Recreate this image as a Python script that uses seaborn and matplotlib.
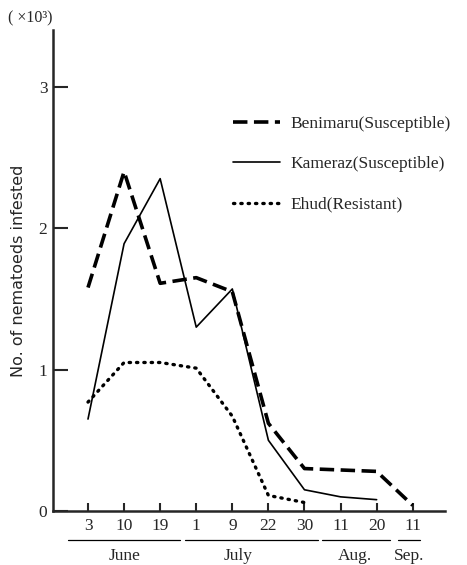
import matplotlib
matplotlib.use("Agg")
import matplotlib.pyplot as plt
import matplotlib.transforms as mtransforms
import pandas as pd
import seaborn as sns

# sampling dates (June 3 .. Sep 11)
day_labels = ["3", "10", "19", "1", "9", "22", "30", "11", "20", "11"]
months = ["June", "July", "Aug.", "Sep."]

# nematodes infested (x10^3)
benimaru = [1.58, 2.40, 1.61, 1.65, 1.55, 0.62, 0.30, 0.29, 0.28, 0.04]
kameraz = [0.65, 1.89, 2.35, 1.30, 1.57, 0.50, 0.15, 0.10, 0.08, None]
ehud = [0.77, 1.05, 1.05, 1.01, 0.67, 0.11, 0.06, None, None, None]

series = {
    "Benimaru(Susceptible)": benimaru,
    "Kameraz(Susceptible)": kameraz,
    "Ehud(Resistant)": ehud,
}
styles = {
    "Benimaru(Susceptible)": dict(lw=2.6, dashes=(4.0, 1.8)),
    "Kameraz(Susceptible)": dict(lw=1.2, dashes=()),
    "Ehud(Resistant)": dict(lw=2.4, dashes=(0.4, 1.8)),
}

rows = []
for name, vals in series.items():
    for i, v in enumerate(vals):
        if v is not None:
            rows.append({"pos": i, "value": v, "cultivar": name})
df = pd.DataFrame(rows)

sns.set_theme(style="ticks")
plt.rcParams["font.family"] = ["Liberation Serif", "DejaVu Serif"]

fig = plt.figure(figsize=(4.67, 5.65), dpi=100)
ax = fig.add_axes([0.1135, 0.0956, 0.839, 0.851])

for name in series:
    st = styles[name]
    sub = df[df["cultivar"] == name]
    sns.lineplot(data=sub, x="pos", y="value", color="black",
                 linewidth=st["lw"], ax=ax, label=name)
    ln = ax.lines[-1]
    if st["dashes"]:
        ln.set_dashes(st["dashes"])
        if name.startswith("Ehud"):
            ln.set_dash_capstyle("round")

ax.set_xlim(-0.97, 9.89)
ax.set_ylim(0, 3.40)
ax.set_xticks(range(len(day_labels)))
ax.set_xticklabels(day_labels, fontsize=12.5)
ax.set_yticks([0, 1, 2, 3])
ax.set_yticklabels(["0", "1", "2", "3"], fontsize=12.5)
ax.tick_params(axis="x", direction="in", length=6, width=1.5, pad=5)
ax.tick_params(axis="y", direction="in", length=11, width=1.5, pad=4)
for s in ["top", "right"]:
    ax.spines[s].set_visible(False)
for s in ["left", "bottom"]:
    ax.spines[s].set_linewidth(1.8)
ax.set_xlabel("")
ax.set_ylabel("No. of nematoeds infested", family=["DejaVu Sans"], fontsize=11.5, labelpad=9)

# month groups beneath the day labels
trans = mtransforms.blended_transform_factory(ax.transData, ax.transAxes)
spans = [(-0.55, 2.55), (2.69, 6.37), (6.48, 8.37), (8.59, 9.2)]
centers = [1.0, 4.15, 7.4, 8.9]
for (x0, x1), c, m in zip(spans, centers, months):
    ax.plot([x0, x1], [-0.060, -0.060], color="black", lw=0.9,
            transform=trans, clip_on=False)
    ax.text(c, -0.093, m, transform=trans, ha="center", va="center", fontsize=12.5)

fig.text(0.017, 0.968, "( ×10³)", fontsize=11.5, ha="left", va="center")

ax.legend(loc="upper left", bbox_to_anchor=(0.42, 0.855), frameon=False,
          fontsize=12.5, handlelength=2.7, labelspacing=1.4, handletextpad=0.6)

fig.savefig("out.png", dpi=100)
